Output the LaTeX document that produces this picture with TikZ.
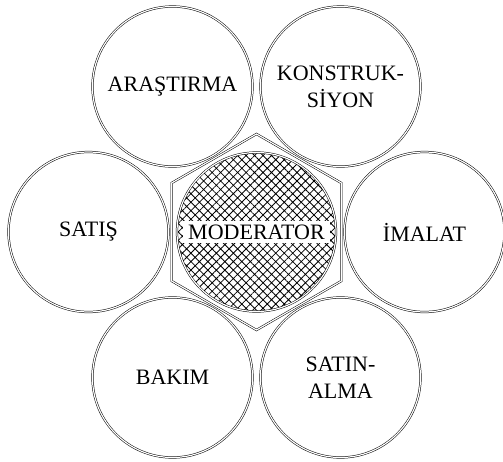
\documentclass[tikz,border=0pt]{standalone}
\usepackage{fontspec}
\setmainfont{Liberation Serif}
\usetikzlibrary{patterns.meta}

\begin{document}
\begin{tikzpicture}[x=1pt, y=1pt,
    deptcircle/.style={circle, draw, double, double distance=1.2pt, line width=0.5pt,
                       minimum size=160pt, inner sep=0pt, align=center,
                       font=\fontsize{22}{27}\selectfont},
    modcircle/.style={circle, draw, double, double distance=1.2pt, line width=0.5pt,
                      minimum size=159pt, inner sep=0pt,
                      pattern={Hatch[angle=45, distance=6pt, line width=0.8pt]}},
    modlabel/.style={rectangle, fill=white, inner xsep=5pt, inner ysep=3.2pt,
                     font=\fontsize{22}{27}\selectfont},
    hexframe/.style={draw, double, double distance=1.2pt, line width=0.5pt}
  ]
    \useasboundingbox (-256.5,-229) rectangle (246.5,232);

    % Hexagon frame round the centre
    \draw[hexframe] (90:98) -- (150:98) -- (210:98) -- (270:98)
      -- (330:98) -- (30:98) -- cycle;

    % Moderator
    \node[modcircle] (mod) at (0,0) {};
    \node[modlabel] (modtxt) at (mod.center) {MODERATOR};

    % Departments
    \node[deptcircle] (arastirma) at (120:168) {ARAŞTIRMA};
    \node[deptcircle] (konstruk)  at (60:168)  {KONSTRUK-\\SİYON};
    \node[deptcircle] (satis)     at (180:168) {SATIŞ};
    \node[deptcircle] (imalat)    at (0:168)   {İMALAT};
    \node[deptcircle] (bakim)     at (240:168) {BAKIM};
    \node[deptcircle] (satinalma) at (300:168) {SATIN-\\ALMA};
  \end{tikzpicture}
\end{document}
